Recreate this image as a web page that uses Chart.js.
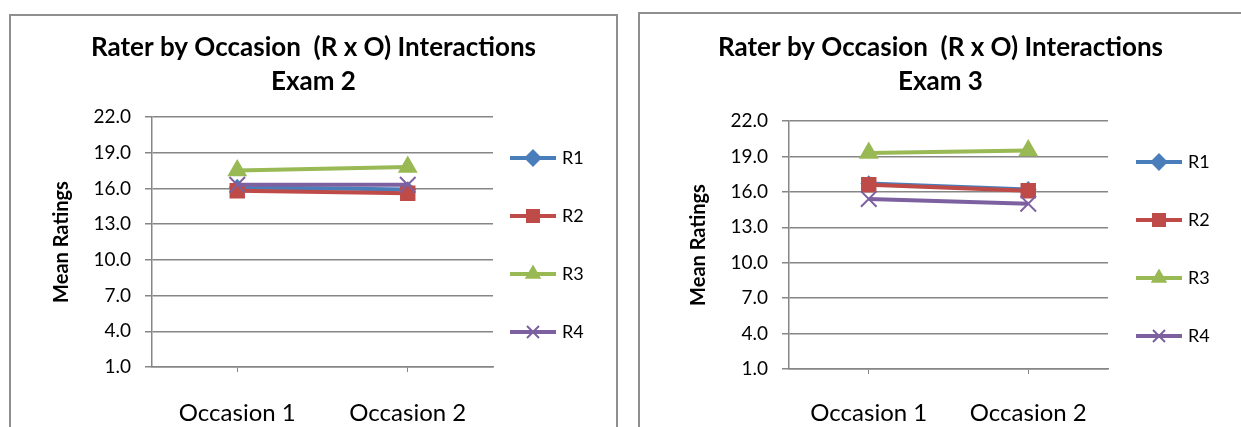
<!DOCTYPE html>
<html>
<head>
<meta charset="utf-8">
<script src="https://cdn.jsdelivr.net/npm/chart.js@4/dist/chart.umd.min.js"></script>
<style>
  html, body { margin: 0; padding: 0; background: #fff; overflow: hidden; }
  body { width: 1241px; height: 427px; position: relative; }
  .panel { position: absolute; border: 2px solid #8f8f8f; background: #fff; box-sizing: border-box; }
  .panel div { position: absolute; left: 0; top: 0; }
</style>
</head>
<body>
<div class="panel" id="p2" style="left:9px; top:14px; width:609px; height:440px;">
  <div style="width:605px; height:411px;"><canvas id="exam2"></canvas></div>
</div>
<div class="panel" id="p3" style="left:638px; top:12px; width:640px; height:440px;">
  <div style="width:601px; height:413px;"><canvas id="exam3"></canvas></div>
</div>
<script>
// data
const occasions = ['Occasion 1', 'Occasion 2'];
const raters = ['R1', 'R2', 'R3', 'R4'];

const exam2R1 = [16.1, 15.9];
const exam2R2 = [15.8, 15.6];
const exam2R3 = [17.5, 17.8];
const exam2R4 = [16.3, 16.3];

const exam3R1 = [16.7, 16.2];
const exam3R2 = [16.6, 16.1];
const exam3R3 = [19.3, 19.5];
const exam3R4 = [15.4, 15.0];

const yMin = 1;
const yMax = 22;
const yStep = 3;

// Excel 2007 default series look
const raterStyles = [
    { color: '#4A7EBB', point: 'rectRot',  radius: 7,    legendRadius: 7.5 },
    { color: '#BE4B48', point: 'rect',     radius: 9.5,  legendRadius: 8.5 },
    { color: '#98B954', point: 'triangle', radius: 9.5,  legendRadius: 7.5 },
    { color: '#7D60A0', point: 'crossRot', radius: 11,   legendRadius: 8.5 }
];

const FONT = 'Lato, "Open Sans", sans-serif';
const AXIS_GREY = '#868686';

/**
 * Legend drawn like Excel: short line with marker, to the right of the plot
 */
const sideLegend = {
    id: 'sideLegend',
    afterDraw(chart, args, opts) {
        const { ctx, chartArea } = chart;
        ctx.save();
        chart.data.datasets.forEach((ds, i) => {
            const st = raterStyles[i];
            const y = chartArea.top + opts.top + i * opts.gap;
            const x0 = chartArea.right + opts.left;
            ctx.strokeStyle = st.color;
            ctx.lineWidth = 4;
            ctx.beginPath();
            ctx.moveTo(x0, y);
            ctx.lineTo(x0 + 46, y);
            ctx.stroke();
            ctx.fillStyle = st.color;
            ctx.lineWidth = 2;
            Chart.helpers.drawPoint(ctx, {
                pointStyle: st.point, rotation: 0, radius: st.legendRadius, borderWidth: 2
            }, x0 + 23, y);
            ctx.fillStyle = '#000';
            ctx.font = '18px ' + FONT;
            ctx.textAlign = 'left';
            ctx.textBaseline = 'middle';
            ctx.fillText(ds.label, x0 + 52, y);
        });
        ctx.restore();
    }
};

function buildDatasets(series) {
    return series.map((values, i) => {
        const st = raterStyles[i];
        return {
            label: raters[i],
            data: values,
            borderColor: st.color,
            backgroundColor: st.color,
            borderWidth: 4,
            pointStyle: st.point,
            pointRadius: st.radius,
            pointBorderWidth: 2,
            pointBackgroundColor: st.color,
            pointBorderColor: st.color,
            order: series.length - 1 - i,
            tension: 0
        };
    });
}

function makeChart(canvasId, examLabel, series, geom) {
    return new Chart(document.getElementById(canvasId), {
        type: 'line',
        data: {
            labels: occasions,
            datasets: buildDatasets(series)
        },
        plugins: [sideLegend],
        options: {
            responsive: true,
            maintainAspectRatio: false,
            animation: false,
            layout: { padding: 0 },
            plugins: {
                legend: { display: false },
                tooltip: { enabled: false },
                title: {
                    display: true,
                    text: ['Rater by Occasion  (R x O) Interactions', examLabel],
                    color: '#000',
                    font: { family: FONT, size: 26, weight: 'bold', lineHeight: '34px' },
                    padding: { top: geom.titleTop, bottom: geom.titleBottom }
                },
                sideLegend: { top: 41, gap: 58, left: geom.legendLeft }
            },
            scales: {
                x: {
                    offset: true,
                    grid: {
                        display: true,
                        offset: false,
                        drawOnChartArea: false,
                        drawTicks: true,
                        tickLength: 5,
                        color: AXIS_GREY
                    },
                    border: { display: true, color: AXIS_GREY, width: 1.5 },
                    ticks: {
                        color: '#000',
                        font: { family: FONT, size: 24 },
                        padding: geom.xPad,
                        maxRotation: 0
                    },
                    afterFit(scale) { scale.height = geom.xHeight; }
                },
                y: {
                    min: yMin,
                    max: yMax,
                    grid: {
                        color: AXIS_GREY,
                        lineWidth: 1.5,
                        drawTicks: true,
                        tickLength: 7
                    },
                    border: { display: true, color: AXIS_GREY, width: 1.5 },
                    ticks: {
                        stepSize: yStep,
                        color: '#000',
                        font: { family: FONT, size: 19 },
                        padding: 14,
                        callback: value => value.toFixed(1)
                    },
                    title: {
                        display: true,
                        text: 'Mean Ratings',
                        color: '#000',
                        font: { family: FONT, size: 20, weight: 'bold' },
                        padding: { top: geom.yTitlePad, bottom: 0 }
                    },
                    afterFit(scale) { scale.width = geom.yWidth; }
                },
                // empty right-hand strip that keeps room for the legend
                legendSpace: {
                    type: 'linear',
                    position: 'right',
                    display: true,
                    grid: { display: false, drawTicks: false },
                    border: { display: false },
                    ticks: { display: false },
                    afterFit(scale) { scale.width = geom.rightPad; }
                }
            }
        }
    });
}

makeChart('exam2', 'Exam 2', [exam2R1, exam2R2, exam2R3, exam2R4], {
    rightPad: 123, titleTop: 15, titleBottom: 18, legendLeft: 17,
    xPad: 27, xHeight: 60, yWidth: 141, yTitlePad: 39
});

makeChart('exam3', 'Exam 3', [exam3R1, exam3R2, exam3R3, exam3R4], {
    rightPad: 133, titleTop: 17, titleBottom: 22, legendLeft: 28,
    xPad: 25, xHeight: 58, yWidth: 149, yTitlePad: 47
});
</script>
</body>
</html>
